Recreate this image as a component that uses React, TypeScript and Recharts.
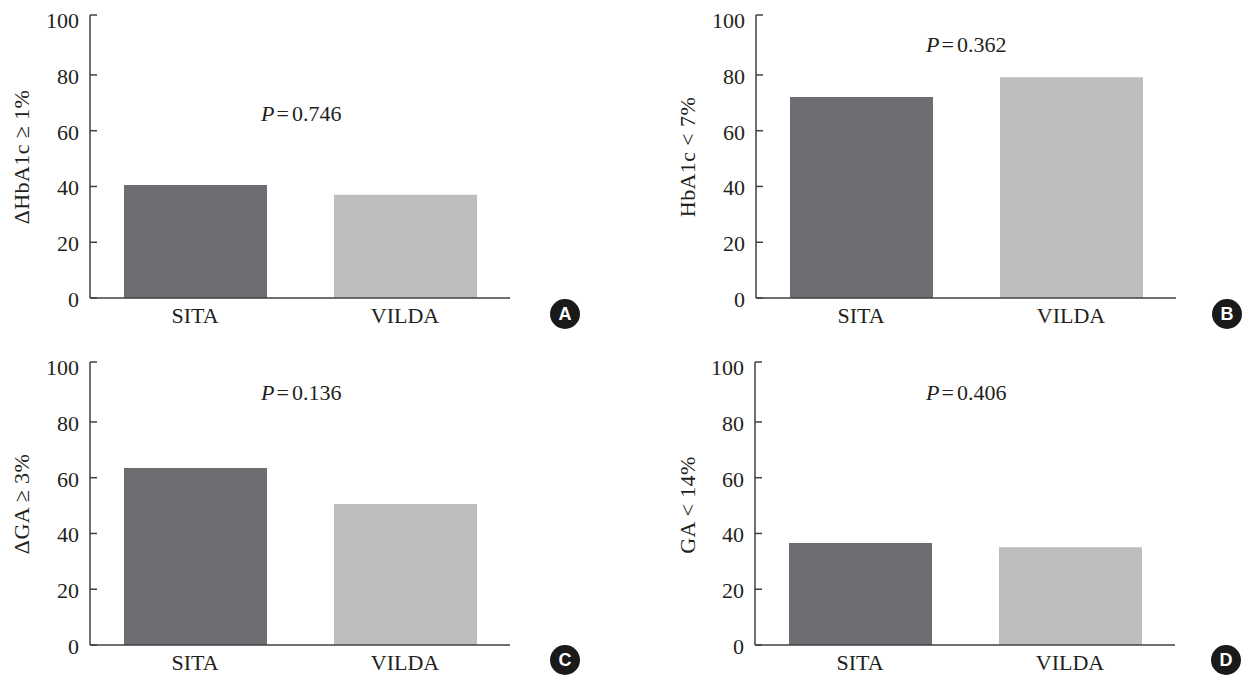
import React from 'react';
import { BarChart, Bar, Cell, XAxis, YAxis } from 'recharts';

const categories = ['SITA', 'VILDA'];
const sitaValues = [40.5, 72.1, 63.5, 36.6];
const vildaValues = [37, 79.2, 50.6, 35.1];
const yTicks = [0, 20, 40, 60, 80, 100];
const yLabels = ['ΔHbA1c ≥ 1%', 'HbA1c < 7%', 'ΔGA ≥ 3%', 'GA < 14%'];
const pValues = ['0.746', '0.362', '0.136', '0.406'];
const letters = ['A', 'B', 'C', 'D'];

const colors = ['#6d6e71', '#bcbec0'];
const ink = '#231f20';
const axisColor = '#414042';
const font = '"Liberation Serif", serif';

// where each panel sits on the page
const layout = [
  { axisX: 90, plotTop: 15, plotH: 283, labelX: 29, labelY: 157, pX: 261, pY: 121, bx: 565, by: 314 },
  { axisX: 756, plotTop: 15, plotH: 283, labelX: 695, labelY: 157, pX: 926, pY: 52, bx: 1227, by: 314 },
  { axisX: 90, plotTop: 362, plotH: 283, labelX: 29, labelY: 504, pX: 261, pY: 400, bx: 565, by: 660 },
  { axisX: 755, plotTop: 362, plotH: 283, labelX: 695, labelY: 505, pX: 926, pY: 400, bx: 1226, by: 660 },
];

const PANEL_W = 1247;
const PANEL_H = 676;

function YTick({ y, payload, axisX, plotTop }: any) {
  // the top mark sits at the end of the axis line, above its label
  const markY = payload.value === 100 ? plotTop : y;
  return (
    <g>
      <line x1={axisX} x2={axisX + 7} y1={markY} y2={markY} stroke={axisColor} strokeWidth={1.5} />
      <text x={axisX - 11} y={y + 9} textAnchor="end" fontFamily={font} fontSize={22} fill={ink}>
        {payload.value}
      </text>
    </g>
  );
}

function Panel({ index }: { index: number }) {
  const p = layout[index];
  const data = categories.map((name, i) => ({
    name,
    value: i === 0 ? sitaValues[index] : vildaValues[index],
  }));
  const plotW = 420;

  return (
    <div style={{ position: 'absolute', left: 0, top: 0, width: PANEL_W, height: PANEL_H }}>
      <BarChart
        width={PANEL_W}
        height={PANEL_H}
        data={data}
        margin={{ top: p.plotTop, left: 0, right: PANEL_W - p.axisX - plotW, bottom: PANEL_H - p.plotTop - p.plotH - 30 }}
      >
        <XAxis
          dataKey="name"
          height={30}
          tickLine={false}
          tickMargin={3}
          axisLine={{ stroke: axisColor, strokeWidth: 1.5 }}
          tick={{ fill: ink, fontFamily: font, fontSize: 22 }}
        />
        <YAxis
          width={p.axisX}
          domain={[0, 101.5]}
          ticks={yTicks}
          interval={0}
          tickLine={false}
          axisLine={{ stroke: axisColor, strokeWidth: 1.5 }}
          tick={<YTick axisX={p.axisX} plotTop={p.plotTop} />}
        />
        <Bar dataKey="value" barSize={143} isAnimationActive={false}>
          {data.map((d, i) => (
            <Cell key={d.name} fill={colors[i]} />
          ))}
        </Bar>
        <text
          x={p.labelX}
          y={p.labelY}
          textAnchor="middle"
          transform={`rotate(-90 ${p.labelX} ${p.labelY})`}
          fontFamily={font}
          fontSize={22}
          letterSpacing={0.4}
          fill={ink}
        >
          {yLabels[index]}
        </text>
        <text x={p.pX} y={p.pY} fontFamily={font} fontSize={22} fill={ink}>
          <tspan fontStyle="italic">P</tspan>
          <tspan dx={2}>=</tspan>
          <tspan dx={3}>{pValues[index]}</tspan>
        </text>
        <circle cx={p.bx} cy={p.by} r={15} fill="#1a1a1a" />
        <text
          x={p.bx}
          y={p.by + 6}
          textAnchor="middle"
          fontFamily='"Liberation Sans", sans-serif'
          fontWeight="bold"
          fontSize={18}
          fill="#fff"
        >
          {letters[index]}
        </text>
      </BarChart>
    </div>
  );
}

export default function App() {
  return (
    <div style={{ position: 'absolute', left: 0, top: 0, width: PANEL_W, height: PANEL_H, background: '#fff' }}>
      {letters.map((_, i) => (
        <Panel key={i} index={i} />
      ))}
    </div>
  );
}
